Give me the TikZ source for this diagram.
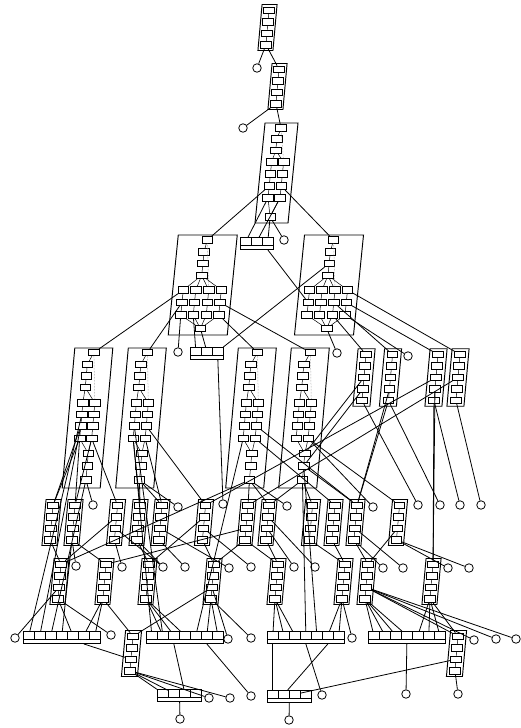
\documentclass[tikz,border=0pt]{standalone}
\usepackage{tikz}

% narrow slanted module with a stack of cells
\newcommand{\smallmod}[5]{%
  \begin{scope}[shift={(#2,#3)}, xslant=0.09]
    \pgfmathsetmacro\mhalf{#4*5.75}
    \draw[modframe] ({-#5/2},-\mhalf) rectangle ({#5/2},\mhalf);
    \foreach \k in {1,...,#4}
      \node[cell] (#1-\k) at (0,{(\k-0.5)*11.5-\mhalf}) {};
    \pgfmathtruncatemacro\mlast{#4-1}
    \foreach \k [count=\n from 2] in {1,...,\mlast}
      \draw[link] (#1-\k) -- (#1-\n);
  \end{scope}}

% tall module: head, column, two lanes, tail
\newcommand{\tallmod}[3]{%
  \begin{scope}[shift={(#2,#3)}, xslant=0.09]
    \draw[modframe] (-19,-70) rectangle (19,70);
    \node[cell] (#1-t) at (0.5,-65.5) {};
    \foreach \k/\y in {1/-53.5,2/-42,3/-30.5}
      \node[cell] (#1-c\k) at (-5,\y) {};
    \foreach \r/\y in {1/-15,2/-3.5,3/8,4/20.5} {
      \node[cell] (#1-\r-1) at (-6,\y) {};
      \node[cell] (#1-\r-2) at (6,\y) {};
    }
    \foreach \k/\y in {1/35.5,2/48,3/62}
      \node[cell] (#1-l\k) at (4,\y) {};
    \draw[link] (#1-t) -- (#1-c1) -- (#1-c2) -- (#1-c3);
    \foreach \s in {1,2} {
      \draw[link] (#1-c3) -- (#1-1-\s);
      \draw[link] (#1-1-\s) -- (#1-2-\s) -- (#1-3-\s) -- (#1-4-\s);
      \draw[link] (#1-4-\s) -- (#1-l1);
    }
    \draw[link] (#1-l1) -- (#1-l2) -- (#1-l3);
    \draw[hint] (#1-t) -- (#1-1-2);
  \end{scope}}

% wide module: head, column, three rows of four, tail
\newcommand{\widemod}[3]{%
  \begin{scope}[shift={(#2,#3)}, xslant=0.1]
    \draw[modframe] (-29.5,-50) rectangle (29.5,50);
    \node[cell] (#1-t) at (0,-45) {};
    \foreach \k/\y in {1/-33,2/-21.5,3/-9.5}
      \node[cell] (#1-c\k) at (-2,\y) {};
    \foreach \r/\y in {1/5,2/17.5,3/30}
      \foreach \s/\x in {1/-19,2/-6.5,3/6.5,4/19}
        \node[cell] (#1-\r-\s) at (\x,\y) {};
    \node[cell] (#1-b) at (2,43.5) {};
    \draw[link] (#1-t) -- (#1-c1) -- (#1-c2) -- (#1-c3);
    \foreach \s in {1,...,4} {
      \draw[link] (#1-c3) -- (#1-1-\s);
      \draw[link] (#1-1-\s) -- (#1-2-\s) -- (#1-3-\s);
      \draw[link] (#1-3-\s) -- (#1-b);
    }
    \draw[hint] (#1-t) -- (#1-1-3);
  \end{scope}}

% register bar with n cells
\newcommand{\regbar}[4]{%
  \pgfmathsetlengthmacro\bw{#4*11pt}
  \node[barbox, minimum width=\bw, anchor=north west] (#1) at (#2,#3) {};
  \foreach \k in {1,...,#4}
    \node[bcell, anchor=north west] (#1-\k) at ({#2+11*(\k-1)},#3) {};}

\begin{document}
\begin{tikzpicture}[x=1pt, y=-1pt,
  modframe/.style={line width=0.95pt},
  cell/.style={draw, rectangle, minimum width=10.5pt, minimum height=6.5pt,
               inner sep=0pt, line width=0.7pt, fill=white},
  link/.style={line width=0.5pt},
  hint/.style={densely dotted, gray, line width=0.5pt},
  wire/.style={line width=0.8pt},
  port/.style={draw, circle, minimum size=8.5pt, inner sep=0pt, line width=0.8pt},
  barbox/.style={draw, rectangle, minimum height=12pt, inner sep=0pt, line width=0.95pt},
  bcell/.style={draw, rectangle, minimum width=11pt, minimum height=8pt,
                inner sep=0pt, line width=0.7pt}
]
  \useasboundingbox (0,0) rectangle (520,728);

  % Top chain
  \smallmod{a1}{267.5}{27.5}{4}{15}
  \smallmod{a2}{277.5}{86.5}{4}{15}
  \begin{scope}[shift={(276.5,173)}, xslant=0.1]
    \draw[modframe] (-16.5,-50) rectangle (16.5,50);
    \node[cell] (a3-t) at (0,-45) {};
    \node[cell] (a3-c1) at (-3,-34) {};
    \node[cell] (a3-c2) at (-3,-22.5) {};
    \foreach \r/\y in {1/-11,2/1,3/13,4/25} {
      \node[cell] (a3-\r-1) at (-6,\y) {};
      \node[cell] (a3-\r-2) at (6,\y) {};
    }
    \node[cell] (a3-b) at (-2,44) {};
    \draw[link] (a3-t) -- (a3-c1) -- (a3-c2);
    \foreach \s in {1,2} {
      \draw[link] (a3-c2) -- (a3-1-\s);
      \draw[link] (a3-1-\s) -- (a3-2-\s) -- (a3-3-\s) -- (a3-4-\s) -- (a3-b);
    }
    \draw[hint] (a3-t) -- (a3-1-2);
  \end{scope}

  % Wide modules
  \widemod{b1}{202.75}{285}
  \widemod{b2}{329}{285}
  \regbar{u}{240}{237}{3}

  % Tall modules and small ones beside them
  \tallmod{c1}{87.5}{418}
  \tallmod{c2}{141}{418}
  \tallmod{c3}{251}{418}
  \tallmod{c4}{304}{418}
  \regbar{v}{190}{347}{3}
  \foreach \mname/\mx in {d1/364,d2/390.5,d3/436,d4/458}
    {\smallmod{\mname}{\mx}{377.5}{5}{17}}

  % Fourth and fifth rows
  \foreach \mname/\mx in {e1/51.5,e2/73.5,e3/116,e4/138.5,e5/160.5,e6/204,
                          e7/246.5,e8/267.5,e9/311,e10/333.5,e11/355.5,e12/398}
    {\smallmod{\mname}{\mx}{522.5}{4}{15}}
  \foreach \mname/\mx in {f1/59.5,f2/104.5,f3/147.5,f4/212.5,
                          f5/276.5,f6/343.5,f7/366.5,f8/431.5}
    {\smallmod{\mname}{\mx}{581.5}{4}{15}}

  % Bottom rows
  \smallmod{h}{131.5}{653.5}{4}{16}
  \smallmod{j}{456.5}{653.5}{4}{16}
  \regbar{g1}{23}{631}{7}
  \regbar{g2}{146}{631}{7}
  \regbar{g3}{267}{631}{7}
  \regbar{g4}{368}{631}{7}
  \regbar{bi}{157}{689}{4}
  \regbar{bk}{267}{690}{4}

  % Ports
  \foreach \pname/\px/\py in {p1/257/68, p2/243/128, p3/284/240, p4/178/352,
      p5/337/353, p6/408/356,
      q1/93/505, q2/178/507, q3/223/504, q4/287/506, q5/373/507, q6/418/505,
      q7/440/505, q8/460/505, q9/481/505,
      s1/76/566, s2/122/567, s3/163/567, s4/185/567, s5/229/568, s6/251/567,
      s7/294/567, s8/315/567, s9/383/568, s10/403/568, s11/448/568, s12/469/568,
      t1/15/638, t2/111/635, t3/228/639, t4/251/638, t5/352/638, t6/474/640,
      t7/496/639, t8/516/639,
      w1/209/698, w2/230/698, w3/251/696, w4/322/695, w5/406/694, w6/458/694,
      w7/180/719, w8/289/720}
    {\node[port] (\pname) at (\px,\py) {};}

  % Wires
  \foreach \a/\b in {a1-4/p1, a1-4/a2-1, a2-4/p2, a2-4/a3-t,
      a3-3-1/b1-t, a3-3-2/b2-t, a3-4-1/u-1, a3-4-2/u-2, a3-b/u-3, a3-b/p3,
      b1-1-1/c1-t, b1-2-1/c2-t, b1-3-1/p4, b1-3-2/v-1, b1-b/v-2,
      b1-3-4/c3-t, b1-2-4/c4-t,
      b2-c2/v-3, b2-1-4/d4-1, b2-2-4/d3-1, b2-2-3/d2-1, b2-3-3/d1-1,
      b2-3-4/p6, b2-b/p5,
      c1-3-1/e1-1, c1-4-1/e1-1, c1-4-1/e2-1, c1-4-2/e2-1, c1-l3/q1,
      c1-4-2/e3-1, c1-2-1/g1-1, c1-3-1/g1-2, c1-l3/g1-3,
      c2-4-1/e4-1, c2-l3/e4-1, c2-l3/e5-1, c2-4-2/e5-1, c2-3-2/e6-1,
      c2-l3/q2, c2-4-1/g2-1, c2-3-1/g2-2,
      c3-l3/e7-1, c3-l3/e8-1, c3-l3/f1-1, c3-4-2/e10-1, c3-3-2/e11-1,
      c3-l3/q4, c3-4-1/g2-5,
      c4-l3/e8-1, c4-l3/e9-1, c4-4-2/e12-1, c4-l2/e11-1, c4-4-2/q5,
      c4-l3/g3-4, c4-l2/g3-5,
      d1-5/q6, d2-5/q7, d3-5/q8, d4-5/q9, d2-4/e11-1, d2-5/e11-1,
      d3-4/f8-1, d3-5/f8-1, d3-3/e6-1, d4-3/e7-1, d1-3/c4-l1, d1-4/c4-l2,
      e1-4/f1-1, e2-4/f2-1, e2-4/s1, e2-4/g1-4, e3-4/s2, e3-3/s3, e3-2/f1-1,
      e4-4/f3-1, e4-4/s3, e5-4/s4, e5-3/s5, e6-4/f4-1, e6-3/s6, e6-2/f3-1,
      e7-3/f2-1, e7-4/f4-1, e7-4/f5-1, e8-4/f5-1, e8-3/s7, e8-2/s8,
      e9-4/f6-1, e10-4/f6-1, e11-4/f7-1, e11-4/s9, e11-3/s10, e12-3/f7-1,
      e12-4/s11, e12-4/s12,
      f1-4/g1-5, f1-3/t1, f1-4/t2, f2-4/g1-6, f2-4/g1-7, f2-4/h-1,
      f3-4/g2-2, f3-4/g2-3, f3-4/g2-4,
      f4-4/g2-6, f4-4/g2-7, f4-4/t4, f4-3/t3, f4-3/h-1,
      f5-4/g3-1, f5-4/g3-2, f5-4/g3-3,
      f6-4/g3-6, f6-4/g3-7, f6-4/t5,
      f7-4/g4-1, f7-4/g4-2, f7-4/g4-3, f7-4/g4-4,
      f7-3/t6, f7-3/t7, f7-3/t8, f7-3/j-1,
      f8-4/g4-5, f8-4/g4-6, f8-4/g4-7, f8-4/j-1,
      h-4/bi-1, h-4/bi-2, h-4/w1, h-4/w2, j-3/bk-3, j-4/w6, bi/w7, bk/w8}
    {\draw[wire] (\a) -- (\b);}

  % Wires leaving from the foot of a bar
  \draw[wire] (u-3 |- u.south) -- (b2-2-1);
  \draw[wire] (v-3 |- v.south) -- (q3);
  \draw[wire] (g1-6 |- g1.south) -- (h-3);
  \draw[wire] (g2-3 |- g2.south) -- (bi-3);
  \draw[wire] (g2-6 |- g2.south) -- (w3);
  \draw[wire] (g3-1 |- g3.south) -- (bk-1);
  \draw[wire] (g3-6 |- g3.south) -- (bk-2);
  \draw[wire] (g3-4 |- g3.south) -- (w4);
  \draw[wire] (g4-4 |- g4.south) -- (w5);
\end{tikzpicture}
\end{document}
